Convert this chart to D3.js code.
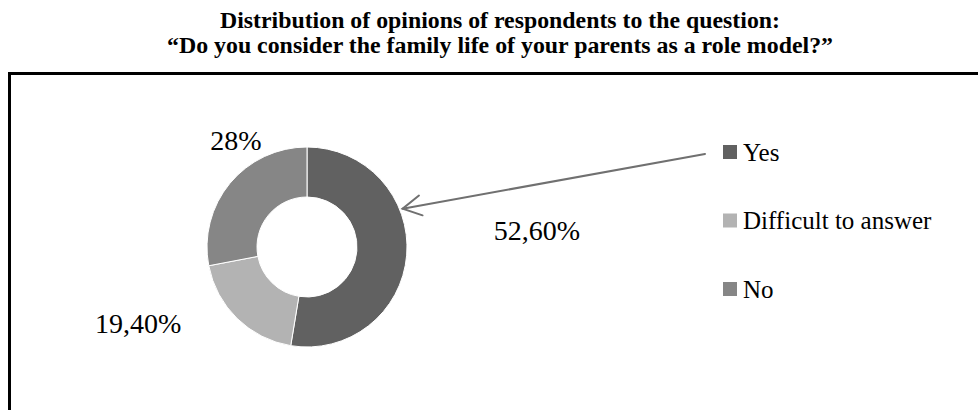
<!DOCTYPE html>
<html>
<head>
<meta charset="utf-8">
<script src="https://cdn.jsdelivr.net/npm/d3@7"></script>
<style>
  html, body { margin: 0; padding: 0; background: #fff; }
  svg { display: block; }
  text { font-family: "Liberation Serif", "Times New Roman", serif; fill: #000; }
</style>
</head>
<body>
<svg id="chart" width="978" height="410"></svg>
<script>
// Survey answers
const categories = ["Yes", "Difficult to answer", "No"];
const shares = [52.6, 19.4, 28];
const shareLabels = ["52,60%", "19,40%", "28%"];
const titleLines = [
  "Distribution of opinions of respondents to the question:",
  "\u201CDo you consider the family life of your parents as a role model?\u201D"
];

const W = 978, H = 410;
const svg = d3.select("#chart");

const color = d3.scaleOrdinal()
  .domain(categories)
  .range(["#616161", "#b3b3b3", "#868686"]);

// Title
const title = svg.append("g").attr("font-weight", "bold");
title.selectAll("text")
  .data(titleLines)
  .join("text")
  .attr("x", 500)
  .attr("y", (d, i) => 28 + i * 25)
  .attr("text-anchor", "middle")
  .attr("font-size", 23)
  .attr("textLength", (d, i) => [560, 666][i])
  .attr("lengthAdjust", "spacingAndGlyphs")
  .text(d => d);

// Chart frame (runs off the right and bottom edges)
svg.append("rect")
  .attr("x", 9.5).attr("y", 73.5)
  .attr("width", W + 20).attr("height", H)
  .attr("fill", "none")
  .attr("stroke", "#000")
  .attr("stroke-width", 3);

// Donut
const cx = 307, cy = 247, rOuter = 100, rInner = 50;
const pie = d3.pie().sort(null).value(d => d.value);
const arcs = pie(categories.map((c, i) => ({ cat: c, value: shares[i], label: shareLabels[i] })));
const arc = d3.arc().innerRadius(rInner).outerRadius(rOuter);

const donut = svg.append("g").attr("transform", `translate(${cx},${cy})`);
donut.selectAll("path")
  .data(arcs)
  .join("path")
  .attr("d", arc)
  .attr("fill", d => color(d.data.cat))
  .attr("stroke", "#fff")
  .attr("stroke-width", 1);

// Value labels, placed beside their slices
const labelPos = {
  "Yes": { x: 537, y: 240, anchor: "middle" },
  "Difficult to answer": { x: 95, y: 333, anchor: "start" },
  "No": { x: 236, y: 150, anchor: "middle" }
};
svg.append("g").selectAll("text")
  .data(arcs)
  .join("text")
  .attr("x", d => labelPos[d.data.cat].x)
  .attr("y", d => labelPos[d.data.cat].y)
  .attr("text-anchor", d => labelPos[d.data.cat].anchor)
  .attr("font-size", 28)
  .text(d => d.data.label);

// Legend
const legendY = d3.scalePoint().domain(categories).range([152, 289]);
const legend = svg.append("g").selectAll("g")
  .data(categories)
  .join("g")
  .attr("transform", d => `translate(723,${legendY(d)})`);
legend.append("rect")
  .attr("x", 0).attr("y", -7)
  .attr("width", 14).attr("height", 14)
  .attr("fill", d => color(d));
legend.append("text")
  .attr("x", 20).attr("y", 8.5)
  .attr("font-size", 25)
  .text(d => d);

// Arrow from the "Yes" legend entry to its slice
const yesArc = arcs[0];
const tipAngle = yesArc.startAngle + (yesArc.endAngle - yesArc.startAngle) * 0.36;
const tipR = rOuter + 3;
const tip = [cx + tipR * Math.sin(tipAngle), cy - tipR * Math.cos(tipAngle)];
const tail = [705, legendY("Yes") + 2];
const ang = Math.atan2(tail[1] - tip[1], tail[0] - tip[0]);
const headLen = 21, headSpread = 0.5;
const arrowCol = "#707070";
const arrow = svg.append("g")
  .attr("stroke", arrowCol)
  .attr("stroke-width", 2)
  .attr("fill", "none")
  .attr("stroke-linecap", "round");
arrow.append("line")
  .attr("x1", tail[0]).attr("y1", tail[1])
  .attr("x2", tip[0]).attr("y2", tip[1]);
arrow.append("path")
  .attr("d", d3.line()([
    [tip[0] + headLen * Math.cos(ang - headSpread), tip[1] + headLen * Math.sin(ang - headSpread)],
    tip,
    [tip[0] + headLen * Math.cos(ang + headSpread), tip[1] + headLen * Math.sin(ang + headSpread)]
  ]));
</script>
</body>
</html>
